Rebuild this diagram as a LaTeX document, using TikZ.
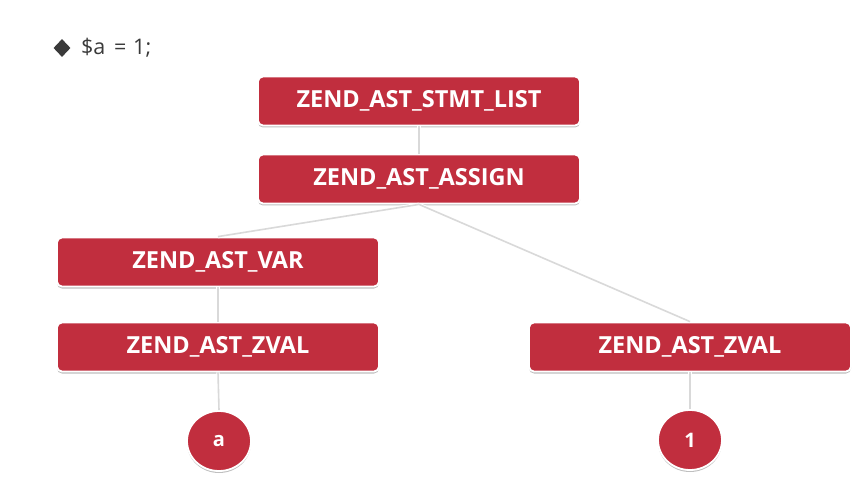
\documentclass[tikz,border=0pt]{standalone}
\usepackage{fontspec}
\setmainfont{Open Sans}
\usetikzlibrary{shadows,shapes.geometric}
\definecolor{boxred}{HTML}{C12E3E}
\definecolor{linegray}{HTML}{D9D9D9}
\definecolor{txtgray}{HTML}{3A3A3A}
\tikzset{
  astbox/.style={draw=white, line width=1.8pt, fill=boxred, rounded corners=5pt,
    minimum width=322pt, minimum height=49pt, inner sep=0pt,
    text=white, font=\fontsize{23.5}{26}\selectfont\bfseries,
    drop shadow={shadow xshift=0pt, shadow yshift=-2pt, opacity=0.25, fill=black}},
  leaf/.style={ellipse, draw=white, line width=1.8pt, fill=boxred,
    minimum width=64pt, minimum height=60pt, inner sep=0pt,
    text=white, font=\fontsize{20}{22}\selectfont\bfseries,
    drop shadow={shadow xshift=0pt, shadow yshift=-2pt, opacity=0.25, fill=black}},
  conn/.style={draw=white, line width=3.4pt, postaction={draw=linegray, line width=1.6pt}}
}
\begin{document}
\begin{tikzpicture}[x=1pt,y=-1pt]
\useasboundingbox[fill=white] (0,0) rectangle (853,478);
% title
\node[diamond, fill=txtgray, minimum width=17pt, minimum height=18pt, inner sep=0pt] (bullet) at (62,48) {};
\node[anchor=west, text=txtgray, font=\fontsize{21.5}{24}\selectfont, inner sep=0pt] (code) at (81,48) {\$a\hspace{0.15em} = \hspace{0.05em}1;};
% nodes
\node[astbox] (stmt) at (419,101) {ZEND\_AST\_STMT\_LIST};
\node[astbox] (assign) at (419,179) {ZEND\_AST\_ASSIGN};
\node[astbox] (var) at (218,262) {ZEND\_AST\_VAR};
\node[astbox] (zl) at (218,347) {ZEND\_AST\_ZVAL};
\node[astbox] (zr) at (690,347) {ZEND\_AST\_ZVAL};
\node[leaf] (la) at (219,441) {a};
\node[leaf] (l1) at (690,440) {1};
% connectors
\path[conn] (stmt.south) -- (assign.north);
\path[conn] (assign.south) -- (var.north);
\path[conn] (assign.south) -- (zr.north);
\path[conn] (var.south) -- (zl.north);
\path[conn] (zl.south) -- (la.north);
\path[conn] (zr.south) -- (l1.north);
\end{tikzpicture}
\end{document}
